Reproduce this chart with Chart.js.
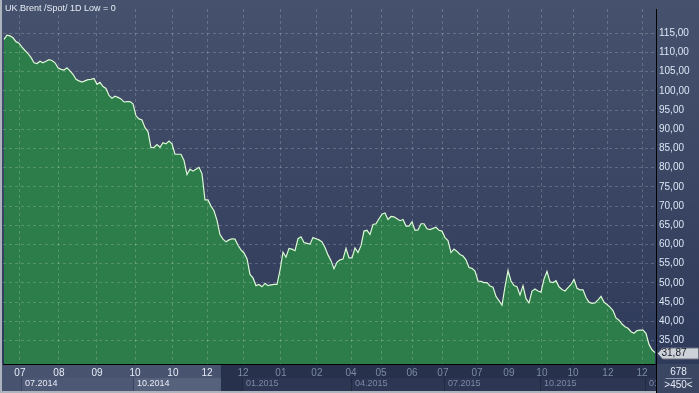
<!DOCTYPE html>
<html>
<head>
<meta charset="utf-8">
<script src="https://cdn.jsdelivr.net/npm/chart.js@4.4.1/dist/chart.umd.min.js"></script>
<style>
  html, body { margin: 0; padding: 0; background: #aeb4be; }
  canvas { display: block; }
</style>
</head>
<body>
<canvas id="brent-chart" width="699" height="393"></canvas>
<script>
// daily low (one value every ~3px)
const brentLow = [
  113.4, 114.5, 114.3, 113.8, 112.8, 112.4, 111.4, 110.5, 109.7, 108.7,
  107.3, 107.1, 107.7, 107.3, 107.7, 108.1, 107.9, 107.3, 106.0, 105.6,
  105.4, 106.0, 105.2, 104.3, 103.0, 102.6, 102.3, 102.6, 102.9, 103.0,
  103.2, 101.7, 102.2, 101.1, 100.6, 98.8, 98.1, 98.6, 98.3, 97.9,
  97.1, 97.2, 97.2, 96.6, 93.5, 92.7, 92.4, 90.4, 89.4, 85.2,
  85.3, 86.0, 85.3, 86.5, 86.2,
  86.9, 86.2, 83.5, 83.5, 83.5, 81.9, 78.2, 79.6, 79.1, 79.6,
  80.1, 78.4, 71.6, 71.6, 70.0, 68.8, 66.3, 62.6, 61.4, 60.7,
  61.2, 61.5, 61.4, 59.8, 58.6, 57.8, 56.3, 52.2, 51.3, 49.3,
  49.6, 49.0, 49.9, 49.3, 49.5, 49.6, 49.6, 53.3, 58.0, 56.7,
  59.0, 58.8, 58.4, 61.5, 62.0, 60.5, 60.3, 60.1, 61.8, 61.5,
  61.2, 60.7, 59.2, 57.3, 55.8,
  53.7, 55.4, 56.0, 56.2, 59.0, 56.5, 56.5, 59.1, 57.9, 59.7,
  63.5, 63.7, 62.6, 65.2, 65.4, 66.7, 67.9, 68.2, 66.5, 67.3,
  67.2, 66.7, 66.2, 66.5, 64.8, 64.8, 65.9, 63.7, 63.8, 65.4,
  65.4, 64.1, 63.9, 64.2, 64.5, 63.7, 63.5, 61.8, 61.0, 57.9,
  58.8, 58.2, 57.4, 57.0, 56.0, 54.0, 53.8, 53.1, 50.5, 50.4,
  50.1, 50.1, 49.2, 48.9, 46.5,
  45.4, 44.2, 49.0, 53.2, 50.5, 49.3, 49.0, 46.9, 49.3, 45.9,
  44.8, 47.9, 48.4, 47.9, 47.6, 51.0, 53.0, 50.3, 50.1, 50.6,
  49.0, 48.3, 47.9, 48.8, 49.6, 50.9, 48.6, 48.2, 48.2, 46.2,
  45.0, 44.7, 44.8, 45.6, 46.5, 45.0, 44.4, 43.7, 42.8, 40.9,
  40.3, 39.3, 38.6, 38.2, 37.3, 36.9, 37.6, 37.7, 37.7, 36.9,
  34.0, 32.6, 31.87
];

const yTickValues = [35, 40, 45, 50, 55, 60, 65, 70, 75, 80, 85, 90, 95, 100, 105, 110, 115];

// month ticks (top row of the time axis), as positions in the series
const monthTickAt = [5.3, 18.3, 31, 43.7, 56.3, 67.7, 79.7, 92.3, 104.3, 115.7,
  125.7, 136, 146.3, 157.7, 168.3, 179.3, 189.7, 201.3, 212.7];
const monthTickLabels = ["07", "08", "09", "10", "10", "12", "12", "01", "02", "04",
  "05", "06", "07", "07", "09", "10", "10", "12", "12"];

// quarter boxes (bottom row)
const quarterStartAt = [6, 43.3, 79.7, 116, 147, 179, 214];
const quarterLabels = ["07.2014", "10.2014", "01.2015", "04.2015", "07.2015", "10.2015", "01"];

const highlightEnd = 72.3;
const chartTitle = "UK Brent /Spot/ 1D Low = 0";
const barCount = "678";
const zoomLabel = ">450<";

const FONT = "'Liberation Sans', Arial, sans-serif";
const gridColor = "rgba(255,255,255,0.19)";
const fmt = (v) => v.toFixed(2).replace(".", ",");

const panels = {
  id: "panels",
  beforeDraw(chart) {
    const { ctx, width, height, chartArea, scales } = chart;
    const x = scales.x;
    const top = chartArea.bottom;
    const mid = top + 14;
    const bot = height - 2;
    const hx = x.getPixelForValue(highlightEnd);

    ctx.save();
    ctx.fillStyle = "#aeb4be";
    ctx.fillRect(0, 0, width, height);

    const grad = ctx.createLinearGradient(0, 0, 0, top);
    grad.addColorStop(0, "#46526d");
    grad.addColorStop(1, "#2e3a59");
    ctx.fillStyle = grad;
    ctx.fillRect(2, 0, width - 2, top);

    // time axis panel
    ctx.fillStyle = "#28314b";
    ctx.fillRect(2, top, chartArea.right - 2, bot - top);
    ctx.fillStyle = "#48536f";
    ctx.fillRect(2, top, hx - 2, bot - top);

    quarterStartAt.forEach((q, i) => {
      const x0 = x.getPixelForValue(q);
      let x1 = i + 1 < quarterStartAt.length ? x.getPixelForValue(quarterStartAt[i + 1]) : chartArea.right;
      const lit = x0 < hx;
      if (lit) x1 = Math.min(x1, hx);
      ctx.fillStyle = lit ? (i % 2 ? "#56617c" : "#4d5874") : "#2d3652";
      ctx.fillRect(x0, mid, x1 - x0, bot - mid);
      ctx.fillStyle = lit ? "#3a4460" : "#222a42";
      ctx.fillRect(Math.round(x0) - 1, mid, 1, bot - mid);
    });

    // bottom right box
    ctx.fillStyle = "#3b4662";
    ctx.fillRect(chartArea.right, top, width - chartArea.right, height - top);
    ctx.restore();
  },
  afterDraw(chart) {
    const { ctx, width, height, chartArea, scales } = chart;
    const x = scales.x;
    const y = scales.y;
    const top = chartArea.bottom;
    const hx = x.getPixelForValue(highlightEnd);

    ctx.save();
    ctx.textBaseline = "middle";

    ctx.font = "9px " + FONT;
    ctx.fillStyle = "#e6ecf6";
    ctx.textAlign = "left";
    ctx.fillText(chartTitle, 5, 9);

    // quarter labels
    ctx.save();
    ctx.beginPath();
    ctx.rect(2, top, chartArea.right - 2, height - top);
    ctx.clip();
    quarterLabels.forEach((lab, i) => {
      const x0 = x.getPixelForValue(quarterStartAt[i]);
      ctx.fillStyle = x0 < hx ? "#e6ecf6" : "#7c8aa4";
      ctx.fillText(lab, x0 + 3, top + 20);
    });
    ctx.restore();

    // axis separator down through the time panel
    ctx.fillStyle = "#000";
    ctx.fillRect(chartArea.right, top, 1, height - top);

    // bar count box
    const cx = (chartArea.right + width) / 2 + 1;
    ctx.textAlign = "center";
    ctx.font = "10px " + FONT;
    ctx.fillStyle = "#e6ecf6";
    ctx.fillText(barCount, cx, top + 8);
    ctx.fillText(zoomLabel, cx, top + 21);
    ctx.fillStyle = "#8c98b0";
    ctx.fillRect(cx - 13, top + 14, 26, 1);

    // last value tag
    const last = brentLow[brentLow.length - 1];
    const yv = Math.round(y.getPixelForValue(last)) + 0.5;
    const tx = chartArea.right + 1.5;
    ctx.beginPath();
    ctx.moveTo(tx, yv);
    ctx.lineTo(tx + 5, yv - 5.5);
    ctx.lineTo(width - 0.5, yv - 5.5);
    ctx.lineTo(width - 0.5, yv + 5.5);
    ctx.lineTo(tx + 5, yv + 5.5);
    ctx.closePath();
    ctx.fillStyle = "#cdd1d8";
    ctx.fill();
    ctx.strokeStyle = "#6a7080";
    ctx.lineWidth = 1;
    ctx.stroke();
    ctx.textAlign = "left";
    ctx.fillStyle = "#1a1e2c";
    ctx.fillText(fmt(last), tx + 4, yv);
    ctx.restore();
  }
};

const ctx = document.getElementById("brent-chart").getContext("2d");
const brentChart = new Chart(ctx, {
  type: "line",
  data: {
    datasets: [
      {
        label: "UK Brent",
        data: brentLow.map((v, i) => ({ x: i, y: v })),
        borderColor: "#dcf8d4",
        borderWidth: 1.2,
        backgroundColor: "#2d7d4b",
        fill: "start",
        pointRadius: 0,
        tension: 0,
      },
    ],
  },
  options: {
    responsive: false,
    devicePixelRatio: 1,
    animation: false,
    events: [],
    layout: { padding: { left: 3, top: 2, right: 0, bottom: 0 } },
    plugins: {
      legend: { display: false },
      tooltip: { enabled: false },
    },
    scales: {
      x: {
        type: "linear",
        min: -0.33,
        max: 217.33,
        afterBuildTicks: (axis) => { axis.ticks = monthTickAt.map((v) => ({ value: v })); },
        afterFit: (axis) => { axis.height = 29; },
        grid: { color: gridColor, lineWidth: 1, drawTicks: false, z: 1 },
        border: { display: true, color: "#000", width: 1, dash: [3, 3], z: 1 },
        ticks: {
          autoSkip: false,
          maxRotation: 0,
          padding: 3,
          font: { family: FONT, size: 10 },
          color: (c) => (c.tick && c.tick.value < highlightEnd ? "#e6ecf6" : "#7c8aa4"),
          callback: (v, i) => monthTickLabels[i],
        },
      },
      y: {
        position: "right",
        min: 28.9,
        max: 121.3,
        afterBuildTicks: (axis) => { axis.ticks = yTickValues.map((v) => ({ value: v })); },
        afterFit: (axis) => { axis.width = 43; },
        grid: { color: gridColor, lineWidth: 1, drawTicks: false, z: 1 },
        border: { display: true, color: "#000", width: 1, dash: [3, 3], z: 1 },
        ticks: {
          padding: 3,
          font: { family: FONT, size: 10 },
          color: "#dce6f4",
          callback: (v) => fmt(v),
        },
      },
    },
  },
  plugins: [panels],
});
</script>
</body>
</html>
